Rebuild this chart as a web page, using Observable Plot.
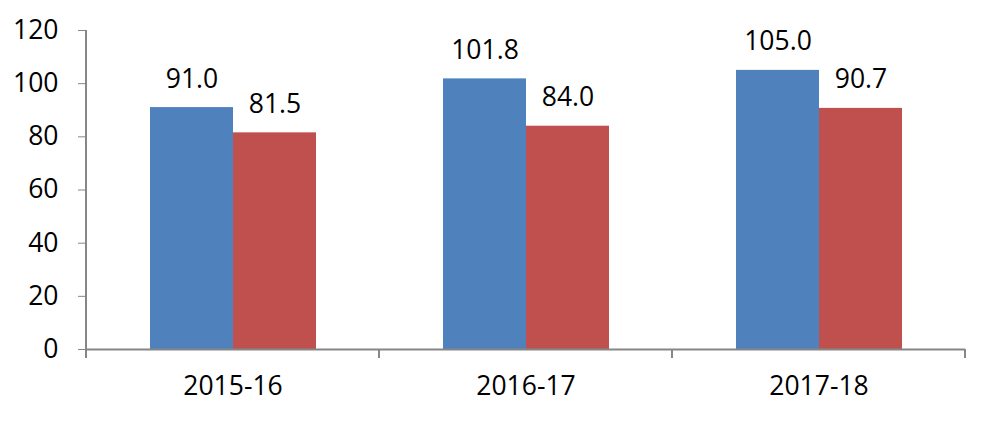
<!DOCTYPE html>
<html>
<head>
<meta charset="utf-8">
<script src="https://cdn.jsdelivr.net/npm/d3@7"></script>
<script src="https://cdn.jsdelivr.net/npm/@observablehq/plot@0.6"></script>
<style>
  html, body { margin: 0; padding: 0; background: #fff; }
  #chart svg { display: block; }
</style>
</head>
<body>
<div id="chart"></div>
<script>
const years = ["2015-16", "2016-17", "2017-18"];
const seriesNames = ["Series 1", "Series 2"];
const series1 = [91.0, 101.8, 105.0];
const series2 = [81.5, 84.0, 90.7];
const yTicks = [0, 20, 40, 60, 80, 100, 120];
const colors = ["#4F81BD", "#C0504D"];

const data = years.flatMap((yr, i) => [
  {year: yr, series: seriesNames[0], value: series1[i]},
  {year: yr, series: seriesNames[1], value: series2[i]}
]);

const FONT = "Open Sans, Liberation Sans, sans-serif";
const AXIS = "#868686";
const FS = 26.5;

const plot = Plot.plot({
  width: 993,
  height: 430,
  marginLeft: 85,
  marginRight: 28,
  marginTop: 30,
  marginBottom: 81,
  style: {fontFamily: FONT, fontSize: FS + "px", color: "black", background: "white"},
  fx: {domain: years, padding: 0, label: null, axis: "bottom", tickSize: 0, tickPadding: 27},
  x: {domain: seriesNames, paddingInner: 0, paddingOuter: 0.75, axis: null},
  y: {domain: [0, 120], axis: null},
  color: {domain: seriesNames, range: colors},
  marks: [
    Plot.barY(data, {fx: "year", x: "series", y: "value", fill: "series"}),
    Plot.text(data, {
      fx: "year", x: "series", y: "value",
      text: d => d.value.toFixed(1),
      dy: -20, lineAnchor: "bottom", fontSize: FS, fill: "black"
    }),
    Plot.axisY(yTicks, {tickSize: 8, tickPadding: 20, stroke: AXIS, fill: "black", fontSize: FS, label: null}),
    Plot.ruleY([0], {stroke: AXIS, strokeWidth: 2})
  ]
});

document.getElementById("chart").appendChild(plot);

// Excel-style axis lines and category boundary ticks, positioned from Plot's own scales
const fx = plot.scale("fx");
const ys = plot.scale("y");
const svg = d3.select(plot);
const y0 = ys.apply(0), yTop = ys.apply(120);
const bounds = years.map(y => fx.apply(y)).concat([fx.apply(years[years.length - 1]) + fx.bandwidth]);
const g = svg.append("g").attr("stroke", AXIS).attr("stroke-width", 2);
g.append("line").attr("x1", bounds[0]).attr("x2", bounds[0]).attr("y1", yTop).attr("y2", y0);
bounds.forEach(b => {
  g.append("line").attr("x1", b).attr("x2", b).attr("y1", y0).attr("y2", y0 + 9);
});
</script>
</body>
</html>
